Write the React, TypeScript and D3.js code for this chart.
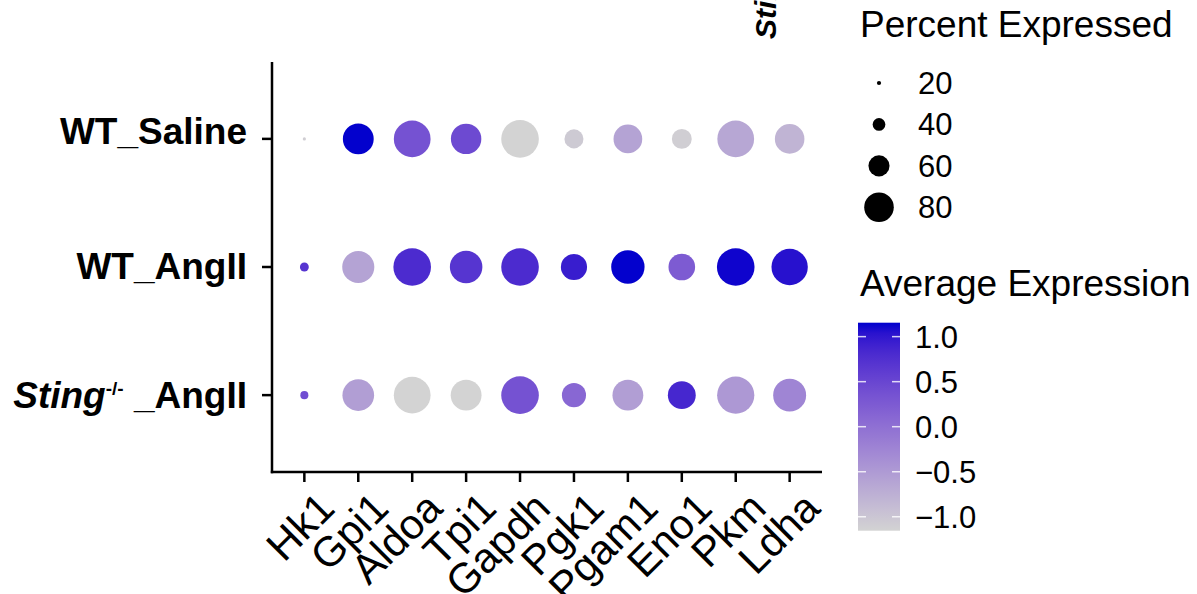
import React from "react";
import * as d3 from "d3";

const genes = ["Hk1", "Gpi1", "Aldoa", "Tpi1", "Gapdh", "Pgk1", "Pgam1", "Eno1", "Pkm", "Ldha"];
const groups = ["WT_Saline", "WT_AngII", "Sting_AngII"];

const pctSaline = [10, 83, 97, 82, 99, 55, 78, 57, 97, 80];
const pctAngII = [31, 86, 99, 87, 99, 72, 89, 73, 99, 96];
const pctSting = [29, 85, 97, 83, 99, 67, 83, 76, 98, 88];

const avgSaline = [-1.1, 1.15, 0.35, 0.45, -1.15, -1.05, -0.6, -1.1, -0.65, -0.8];
const avgAngII = [0.7, -0.6, 0.8, 0.7, 0.8, 0.95, 1.15, 0.25, 1.13, 1.05];
const avgSting = [0.4, -0.55, -1.15, -1.15, 0.35, 0.1, -0.55, 0.85, -0.48, -0.25];

const sizeBreaks = [20, 40, 60, 80];
const colorBreaks = [1.0, 0.5, 0.0, -0.5, -1.0];
const colorLabels = ["1.0", "0.5", "0.0", "\u22120.5", "\u22121.0"];

const FONT = "'Liberation Sans', Arial, Helvetica, sans-serif";

export default function App() {
  const W = 1197, H = 594;
  const panel = { left: 272, right: 822, top: 62, bottom: 472 };

  const x = d3.scalePoint<string>().domain(genes).range([panel.left, panel.right]).padding(0.6);
  const y = d3.scalePoint<string>().domain(groups).range([panel.top, panel.bottom]).padding(0.6);
  const r = d3.scaleLinear().domain([10, 99]).range([0, 18.8]).clamp(true);
  const rad = (p: number) => Math.max(r(p), 1.6);
  const zMax = 2 / Math.sqrt(3);
  const color = d3
    .scaleLinear<string>()
    .domain([-zMax, zMax])
    .range(["#D3D3D3", "#0000CD"])
    .interpolate(d3.interpolateLab);

  const pctRows = [pctSaline, pctAngII, pctSting];
  const avgRows = [avgSaline, avgAngII, avgSting];
  const points = groups.flatMap((g, gi) =>
    genes.map((gene, i) => ({ g, gene, pct: pctRows[gi][i], avg: avgRows[gi][i] }))
  );

  const cb = { x: 858, w: 42, top: 322.7, bottom: 530.7 };
  const cbY = d3.scaleLinear().domain([zMax, -zMax]).range([cb.top, cb.bottom]);
  const stops = d3.range(0, 21).map((i) => {
    const v = zMax - (i / 20) * 2 * zMax;
    return { off: (i / 20) * 100, c: color(v) };
  });

  const sizeLegY = d3.scalePoint<number>().domain(sizeBreaks).range([83, 207.3]);
  const labelShift: Record<string, number> = { WT_Saline: 5, WT_AngII: 12, Sting_AngII: 13 };

  return (
    <svg width={W} height={H} style={{ position: "absolute", left: 0, top: 0, background: "#fff" }} fontFamily={FONT}>
      <defs>
        <linearGradient id="cbgrad" x1="0" y1="0" x2="0" y2="1">
          {stops.map((s, i) => (
            <stop key={i} offset={`${s.off}%`} stopColor={s.c} />
          ))}
        </linearGradient>
      </defs>

      {/* cropped header text */}
      <text
        transform="translate(776,39) rotate(-90)"
        fontSize={30}
        fontWeight="bold"
        fontStyle="italic"
        fill="#000"
      >
        Sting
      </text>

      {/* axes */}
      <line x1={panel.left} x2={panel.left} y1={panel.top} y2={panel.bottom + 1.2} stroke="#000" strokeWidth={2.5} />
      <line x1={panel.left - 1.2} x2={panel.right} y1={panel.bottom} y2={panel.bottom} stroke="#000" strokeWidth={2.5} />

      {groups.map((g) => (
        <line key={g} x1={panel.left - 10} x2={panel.left} y1={y(g)} y2={y(g)} stroke="#000" strokeWidth={2.5} />
      ))}
      {genes.map((gene) => (
        <line key={gene} x1={x(gene)} x2={x(gene)} y1={panel.bottom} y2={panel.bottom + 10} stroke="#000" strokeWidth={2.5} />
      ))}

      {/* y labels */}
      {groups.map((g) => {
        const yy = (y(g) as number) + labelShift[g];
        if (g === "Sting_AngII") {
          return (
            <text key={g} x={247} y={yy} textAnchor="end" fontSize={37} fontWeight="bold" fill="#000">
              <tspan fontStyle="italic">Sting</tspan>
              <tspan dy={-13} fontSize={19}>-/-</tspan>
              <tspan dy={13}> _AngII</tspan>
            </text>
          );
        }
        return (
          <text key={g} x={247} y={yy} textAnchor="end" fontSize={37} fontWeight="bold" fill="#000">
            {g}
          </text>
        );
      })}

      {/* x labels */}
      {genes.map((gene) => (
        <text
          key={gene}
          transform={`translate(${(x(gene) as number) + 11},489) rotate(-45)`}
          textAnchor="end"
          dy="0.72em"
          fontSize={42}
          fill="#000"
        >
          {gene}
        </text>
      ))}

      {/* dots */}
      {points.map((p) => (
        <circle key={p.g + p.gene} cx={x(p.gene)} cy={y(p.g)} r={rad(p.pct)} fill={color(p.avg)} />
      ))}

      {/* size legend */}
      <text x={860} y={37} fontSize={37} fill="#000">Percent Expressed</text>
      {sizeBreaks.map((b) => (
        <g key={b}>
          <circle cx={879} cy={sizeLegY(b)} r={rad(b)} fill="#000" />
          <text x={918} y={(sizeLegY(b) as number) + 11} fontSize={31} fill="#000">
            {b}
          </text>
        </g>
      ))}

      {/* color legend */}
      <text x={860} y={296} fontSize={37} fill="#000">Average Expression</text>
      <rect x={cb.x} y={cb.top} width={cb.w} height={cb.bottom - cb.top} fill="url(#cbgrad)" />
      {colorBreaks.map((b, i) => (
        <g key={b}>
          <line x1={cb.x} x2={cb.x + 8} y1={cbY(b)} y2={cbY(b)} stroke="#fff" strokeOpacity={0.8} strokeWidth={1.5} />
          <line x1={cb.x + cb.w - 8} x2={cb.x + cb.w} y1={cbY(b)} y2={cbY(b)} stroke="#fff" strokeOpacity={0.8} strokeWidth={1.5} />
          <text x={915} y={cbY(b) + 11} fontSize={31} fill="#000">
            {colorLabels[i]}
          </text>
        </g>
      ))}
    </svg>
  );
}
